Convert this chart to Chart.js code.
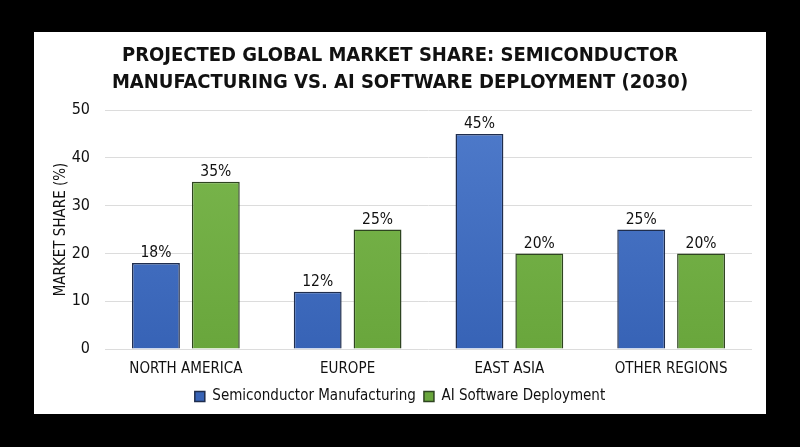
<!DOCTYPE html>
<html lang="en">
<head>
<meta charset="UTF-8">
<title>Projected Global Market Share</title>
<script src="https://cdn.jsdelivr.net/npm/chart.js"></script>
<style>
  html, body { margin: 0; padding: 0; background: #000; }
  #panel {
    position: absolute; left: 34px; top: 32px;
    width: 732px; height: 382px; background: #fff;
  }
</style>
</head>
<body>
<div id="panel"><canvas id="chart"></canvas></div>
<script>
const regions = ['NORTH AMERICA', 'EUROPE', 'EAST ASIA', 'OTHER REGIONS'];
const semiconductor = [18, 12, 45, 25];
const aiSoftware = [35, 25, 20, 20];
const yTicks = [0, 10, 20, 30, 40, 50];

const FONT = "'DejaVu Sans Condensed', 'Liberation Sans Narrow', sans-serif";

function gradient(ctx, top, bottom) {
    const area = ctx.chart.chartArea;
    if (!area) return top;
    const g = ctx.chart.ctx.createLinearGradient(0, area.top, 0, area.bottom);
    g.addColorStop(0, top);
    g.addColorStop(1, bottom);
    return g;
}

// draws "18%" above each bar
const valueLabels = {
    id: 'valueLabels',
    afterDatasetsDraw(chart) {
        const ctx = chart.ctx;
        ctx.save();
        ctx.font = '15.5px ' + FONT;
        ctx.fillStyle = '#111';
        ctx.textAlign = 'center';
        ctx.textBaseline = 'bottom';
        chart.data.datasets.forEach((ds, i) => {
            chart.getDatasetMeta(i).data.forEach((bar, j) => {
                ctx.fillText(ds.data[j] + '%', bar.x, bar.y - 2);
            });
        });
        ctx.restore();
    }
};

new Chart(document.getElementById('chart'), {
    type: 'bar',
    data: {
        labels: regions,
        datasets: [{
            label: 'Semiconductor Manufacturing',
            data: semiconductor,
            backgroundColor: c => gradient(c, '#4f7bcb', '#3763b6'),
            borderColor: '#1f2d4d',
            borderWidth: 1.5,
            barPercentage: 0.8,
            categoryPercentage: 0.74
        }, {
            label: 'AI Software Deployment',
            data: aiSoftware,
            backgroundColor: c => gradient(c, '#7cb84f', '#69a63c'),
            borderColor: '#2e4420',
            borderWidth: 1.5,
            barPercentage: 0.8,
            categoryPercentage: 0.74
        }]
    },
    options: {
        responsive: true,
        maintainAspectRatio: false,
        animation: false,
        layout: { padding: { left: 14, right: 14, top: 4, bottom: 0 } },
        plugins: {
            title: {
                display: true,
                text: ['PROJECTED GLOBAL MARKET SHARE: SEMICONDUCTOR', 'MANUFACTURING VS. AI SOFTWARE DEPLOYMENT (2030)'],
                color: '#111',
                font: { family: FONT, size: 20, weight: 'bold', lineHeight: 1.35 },
                padding: { top: 6, bottom: 14 }
            },
            legend: {
                position: 'bottom',
                labels: {
                    color: '#111',
                    font: { family: FONT, size: 15 },
                    boxWidth: 10,
                    boxHeight: 10,
                    padding: 8
                }
            },
            tooltip: { enabled: false }
        },
        scales: {
            x: {
                grid: { display: false },
                border: { display: false },
                ticks: { color: '#111', font: { family: FONT, size: 15 }, padding: 3 }
            },
            y: {
                min: 0,
                max: 50,
                afterBuildTicks: axis => { axis.ticks = yTicks.map(v => ({ value: v })); },
                afterFit: axis => { axis.width = 57; },
                grid: { color: '#dcdcdc', lineWidth: 1, drawTicks: false },
                border: { display: false },
                ticks: { color: '#111', font: { family: FONT, size: 16 }, padding: 15 },
                title: {
                    display: true,
                    text: 'MARKET SHARE (%)',
                    color: '#111',
                    font: { family: FONT, size: 15 },
                    padding: { top: 4, bottom: 0 }
                }
            }
        }
    },
    plugins: [valueLabels]
});
</script>
</body>
</html>
